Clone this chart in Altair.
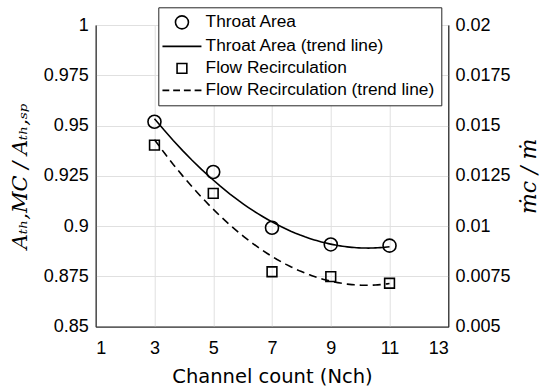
import altair as alt
import pandas as pd

# ---- data ----
channels = [3, 5, 7, 9, 11]
throat_area = [0.9519, 0.9269, 0.8992, 0.8909, 0.8903]
flow_recirc = [0.01403, 0.01163, 0.00773, 0.00749, 0.00716]
labels = ["Throat Area", "Throat Area (trend line)",
          "Flow Recirculation", "Flow Recirculation (trend line)"]
x_ticks = [1, 3, 5, 7, 9, 11, 13]
left_ticks = [0.85, 0.875, 0.9, 0.925, 0.95, 0.975, 1.0]
right_ticks = [0.005, 0.0075, 0.01, 0.0125, 0.015, 0.0175, 0.02]

# legend symbol shapes (unit-box SVG paths)
shapes = ["circle", "M-3,0H3", "M-0.75,-0.75H0.75V0.75H-0.75Z",
          "M-3,0H-1.95M-1.35,0H-0.3M0.3,0H1.35M1.95,0H3"]

throat_df = pd.DataFrame({"x": channels, "throat": throat_area, "label": labels[0]})
flow_df = pd.DataFrame({"x": channels, "flow": flow_recirc, "label": labels[2]})

INK = "#262626"

legend = alt.Legend(
    title=None, orient="none", legendX=62.6, legendY=-17.7,
    strokeColor=INK, fillColor="white", padding=6.4, cornerRadius=0,
    symbolSize=169, symbolStrokeWidth=1.6, symbolStrokeColor="black",
    symbolFillColor="transparent", symbolOffset=8.6, labelOffset=15,
    labelFont="Liberation Sans", labelFontSize=17.3, labelColor="black",
    labelLimit=400, rowPadding=4,
)
shape_enc = alt.Shape("label:N", scale=alt.Scale(domain=labels, range=shapes), legend=legend)

x_enc = alt.X(
    "x:Q",
    scale=alt.Scale(domain=[1, 13], nice=False, zero=False),
    axis=alt.Axis(
        values=x_ticks, format="d", title="Channel count  (Nch)",
        titleFont="DejaVu Sans", titleFontSize=19.5, titleFontWeight="normal",
        titlePadding=10, labelPadding=12.7, ticks=False, grid=True,
    ),
)

y_left = alt.Y(
    "throat:Q",
    scale=alt.Scale(domain=[0.85, 1.0], nice=False, zero=False),
    axis=alt.Axis(
        orient="left", values=left_ticks, format=".4~f",
        title="Aₜₕ,MC / Aₜₕ,ₛₚ", titleFont="DejaVu Serif", titleFontStyle="italic",
        titleFontSize=21, titleFontWeight="normal", titlePadding=13,
        labelPadding=7.4, ticks=False, grid=True,
    ),
)

y_right = alt.Y(
    "flow:Q",
    scale=alt.Scale(domain=[0.005, 0.02], nice=False, zero=False),
    axis=alt.Axis(
        orient="right", values=right_ticks, format=".4~f",
        title="ṁc / ṁ", titleFont="DejaVu Serif", titleFontStyle="italic",
        titleFontSize=22, titleFontWeight="normal", titlePadding=8,
        titleAngle=270, titleBaseline="top",
        labelPadding=6.7, ticks=False, grid=False,
    ),
)

throat_pts = alt.Chart(throat_df).mark_point(
    filled=False, size=169, color="black", strokeWidth=1.6, opacity=1
).encode(x=x_enc, y=y_left, shape=shape_enc)

throat_trend = alt.Chart(throat_df).transform_regression(
    "x", "throat", method="poly", order=2
).mark_line(color="black", strokeWidth=1.6).encode(x=x_enc, y=y_left)

flow_pts = alt.Chart(flow_df).mark_point(
    filled=False, size=169, color="black", strokeWidth=1.6, opacity=1
).encode(x=x_enc, y=y_right, shape=shape_enc)

flow_trend = alt.Chart(flow_df).transform_regression(
    "x", "flow", method="poly", order=2
).mark_line(color="black", strokeWidth=1.6, strokeDash=[8, 5]).encode(x=x_enc, y=y_right)

left = alt.layer(throat_trend, throat_pts)
right = alt.layer(flow_trend, flow_pts)

chart = alt.layer(left, right).resolve_scale(y="independent").properties(
    width=352.6, height=301.7,
    autosize=alt.AutoSizeParams(type="none"),
    padding={"left": 95.7, "top": 25, "right": 97.7, "bottom": 63.3},
    background="white",
).configure_view(
    stroke=INK, strokeWidth=1
).configure_axis(
    domainColor=INK, tickColor=INK, gridColor="#e0e0e0", gridWidth=1,
    labelColor="black", titleColor="black",
    labelFont="Liberation Sans", labelFontSize=18,
)

chart.save("out.html", embed_options={"renderer": "svg", "actions": False})
